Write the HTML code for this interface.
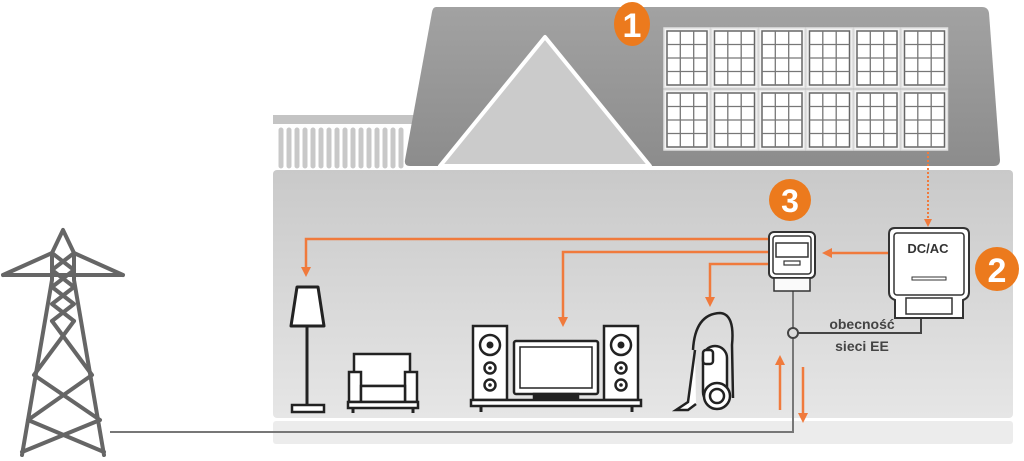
<!DOCTYPE html>
<html><head><meta charset="utf-8"><style>
html,body{margin:0;padding:0;background:#fff;width:1024px;height:461px;overflow:hidden}
svg{display:block}
text{font-family:"Liberation Sans",sans-serif;font-weight:bold}
</style></head><body>
<svg width="1024" height="461" viewBox="0 0 1024 461" xmlns="http://www.w3.org/2000/svg">
<defs>
<linearGradient id="roof" x1="0" y1="0" x2="0" y2="1"><stop offset="0" stop-color="#a2a2a2"/><stop offset="1" stop-color="#8c8c8c"/></linearGradient>
<linearGradient id="wall" x1="0" y1="0" x2="0" y2="1"><stop offset="0" stop-color="#c9c9c9"/><stop offset="1" stop-color="#e6e6e6"/></linearGradient>
<g id="panel">
<rect x="0" y="0" width="46" height="60" fill="#f4f4f4" stroke="#e0e0e0" stroke-width="1.5"/>
<rect x="3" y="3" width="40" height="54" fill="#fff" stroke="#666" stroke-width="1.5"/>
<path d="M16.3 3V57M29.7 3V57M3 16.5H43M3 30H43M3 43.5H43" stroke="#777" stroke-width="1.3"/>
</g>
<marker id="ah" viewBox="0 0 10 10" refX="5" refY="5" markerWidth="4" markerHeight="4" orient="auto"><path d="M0 0L10 5L0 10z" fill="#f07a3c"/></marker>
</defs>

<rect x="273" y="170" width="740" height="248" rx="4" fill="url(#wall)"/>
<rect x="273" y="421" width="740" height="23" rx="3" fill="#ececec"/>
<rect x="273" y="115" width="145" height="9" fill="#c4c4c4"/>
<g stroke="#c8c8c8" stroke-width="5" stroke-linecap="round">
<path d="M281 130V166M289 130V166M297 130V166M305 130V166M313 130V166M321 130V166M329 130V166M337 130V166M345 130V166M353 130V166M361 130V166M369 130V166M377 130V166M385 130V166M393 130V166M401 130V166"/>
</g>
<path d="M436 7H982Q988 7 989 13L1000 160Q1000 166 994 166H410Q404 166 405 160L432 12Q433 7 436 7Z" fill="url(#roof)"/>
<path d="M545 37L440 166H650Z" fill="#cbcbcb" stroke="#fff" stroke-width="4" stroke-linejoin="round"/>
<use href="#panel" x="664" y="28"/><use href="#panel" x="711.5" y="28"/><use href="#panel" x="759" y="28"/><use href="#panel" x="806.5" y="28"/><use href="#panel" x="854" y="28"/><use href="#panel" x="901.5" y="28"/>
<use href="#panel" x="664" y="90"/><use href="#panel" x="711.5" y="90"/><use href="#panel" x="759" y="90"/><use href="#panel" x="806.5" y="90"/><use href="#panel" x="854" y="90"/><use href="#panel" x="901.5" y="90"/>
<ellipse cx="632" cy="24" rx="18" ry="22" fill="#ec7a1d"/>
<text x="632" y="37" font-size="34" fill="#fff" text-anchor="middle" font-weight="normal">1</text>

<path d="M928 152V222" stroke="#f07a3c" stroke-width="2" stroke-dasharray="2 2"/>
<path d="M924 219L928 227L932 219Z" fill="#f07a3c"/>

<g stroke="#f07a3c" stroke-width="2.5" fill="none">
<path d="M775 239H306V272" marker-end="url(#ah)"/>
<path d="M775 252H563V322" marker-end="url(#ah)"/>
<path d="M775 264H710V302" marker-end="url(#ah)"/>
<path d="M889 253H827" marker-end="url(#ah)"/>
<path d="M780 410V360" marker-end="url(#ah)"/>
<path d="M803 367V418" marker-end="url(#ah)"/>
</g>
<g stroke="#777" stroke-width="2" fill="none">
<path d="M793 290V432H110"/>
<path d="M798 333H921V318" stroke="#444"/>
</g>
<circle cx="793" cy="333" r="5" fill="#ddd" stroke="#444" stroke-width="2"/>

<rect x="769" y="232" width="46" height="46" rx="5" fill="#fff" stroke="#333" stroke-width="2"/>
<rect x="773" y="236" width="38" height="38" rx="3" fill="none" stroke="#333" stroke-width="1.5"/>
<rect x="776" y="243" width="32" height="14" fill="#fff" stroke="#333" stroke-width="1.5"/>
<rect x="784" y="261" width="16" height="4" fill="#fff" stroke="#333" stroke-width="1.2"/>
<rect x="774" y="278" width="36" height="13" fill="#fafafa" stroke="#333" stroke-width="1.5"/>
<circle cx="790" cy="200" r="21" fill="#ec7a1d"/>
<text x="790" y="212" font-size="32" fill="#fff" text-anchor="middle" font-weight="normal">3</text>

<path d="M895 228H963Q969 228 969 234V292Q969 298 963 300V318H895V300Q889 298 889 292V234Q889 228 895 228Z" fill="#fff" stroke="#333" stroke-width="2"/>
<rect x="894" y="233" width="70" height="62" rx="3" fill="none" stroke="#333" stroke-width="1.5"/>
<rect x="906" y="298" width="46" height="16" fill="#fff" stroke="#333" stroke-width="1.5"/>
<rect x="912" y="277" width="34" height="3" fill="#fff" stroke="#333" stroke-width="1"/>
<text x="928" y="253" font-size="13" fill="#333" text-anchor="middle">DC/AC</text>
<circle cx="997" cy="269" r="22" fill="#ec7a1d"/>
<text x="997" y="282" font-size="34" fill="#fff" text-anchor="middle" font-weight="normal">2</text>

<text x="862" y="329" font-size="14" fill="#444" text-anchor="middle">obecność</text>
<text x="862" y="351" font-size="14" fill="#444" text-anchor="middle">sieci EE</text>

<path d="M297 287H318L324 326H291Z" fill="#fff" stroke="#222" stroke-width="3" stroke-linejoin="round"/>
<path d="M307 326V406" stroke="#222" stroke-width="3"/>
<rect x="292" y="405" width="32" height="7" fill="#fff" stroke="#222" stroke-width="2.5"/>
<g stroke="#222" stroke-width="2.5" fill="#fff">
<rect x="354" y="354" width="56" height="32"/>
<rect x="349" y="372" width="12" height="30"/>
<rect x="405" y="372" width="12" height="30"/>
<rect x="361" y="386" width="44" height="16"/>
<rect x="348" y="402" width="70" height="6"/>
</g>
<path d="M353 408V413M413 408V413" stroke="#222" stroke-width="3"/>
<g stroke="#222" stroke-width="2.5" fill="#fff">
<rect x="473" y="326" width="34" height="74"/>
<rect x="604" y="326" width="34" height="74"/>
<rect x="514" y="341" width="84" height="53" rx="2"/>
<rect x="520" y="347" width="72" height="41" fill="#fff" stroke-width="1.5"/>
<rect x="534" y="394" width="44" height="6" fill="#222"/>
<rect x="471" y="400" width="170" height="6"/>
<circle cx="490" cy="345" r="10"/><circle cx="490" cy="368" r="5.5"/><circle cx="490" cy="385" r="5.5"/>
<circle cx="621" cy="345" r="10"/><circle cx="621" cy="368" r="5.5"/><circle cx="621" cy="385" r="5.5"/>
</g>
<g fill="#222"><circle cx="490" cy="345" r="3.5"/><circle cx="490" cy="368" r="1.8"/><circle cx="490" cy="385" r="1.8"/><circle cx="621" cy="345" r="3.5"/><circle cx="621" cy="368" r="1.8"/><circle cx="621" cy="385" r="1.8"/></g>
<path d="M481 406V412M632 406V412" stroke="#222" stroke-width="3"/>
<g stroke="#222" stroke-width="2.5" fill="#fff">
<path d="M693 350Q695 314 720 313Q735 314 732 345L733 398" fill="none"/>
<path d="M695 350L688 402L676 410H688L696 404" fill="#fff"/>
<rect x="703" y="346" width="24" height="58" rx="12"/>
<circle cx="717" cy="396" r="13"/>
<circle cx="717" cy="396" r="7"/>
<rect x="703" y="350" width="10" height="14" rx="3"/>
</g>

<g stroke="#666" stroke-width="4" fill="none" stroke-linejoin="round" stroke-linecap="round">
<path d="M63 230L52 253L52 280L22 455M63 230L74 253L74 280L104 455"/>
<path d="M3 275H123M52 253L3 275M74 253L123 275"/>
<path d="M52 253L74 270L52 287L74 304L52 321M74 253L52 270L74 287L52 304L74 321"/>
<path d="M52 321L92 375M74 321L34 375M34 375L100 420M92 375L28 420M28 420L104 452M100 420L22 452"/>
</g>
</svg>
</body></html>
